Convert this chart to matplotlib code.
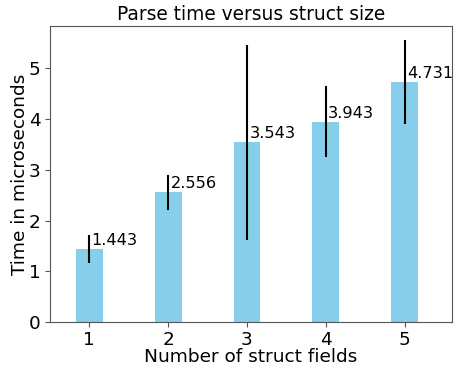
import matplotlib
matplotlib.use("Agg")
import matplotlib.pyplot as plt

fields = [1, 2, 3, 4, 5]
times = [1.443, 2.556, 3.543, 3.943, 4.731]
errors = [0.27, 0.34, 1.92, 0.70, 0.83]
labels = ["1.443", "2.556", "3.543", "3.943", "4.731"]

fig = plt.figure(figsize=(4.54, 3.70), dpi=100)
ax = fig.add_axes([49.5/454, 1-322.3/370, (452-49.5)/454, (322.3-26)/370])

ax.bar(fields, times, width=0.34, color="skyblue", zorder=1)
ax.errorbar(fields, times, yerr=errors, fmt="none", ecolor="black", elinewidth=1.5, capsize=0, zorder=2)
for x, t, lab in zip(fields, times, labels):
    ax.text(x + 0.03, t + 0.02, lab, fontsize=11.6, va="bottom", ha="left")

ax.set_xlim(0.496, 5.6)
ax.set_ylim(0, 5.83)
ax.set_xticks(fields)
ax.set_yticks([0, 1, 2, 3, 4, 5])
ax.tick_params(labelsize=13.3, colors="#555555", labelcolor="black", pad=3)
for s in ax.spines.values():
    s.set_color("#555555")
ax.set_xlabel("Number of struct fields", fontsize=13.3, labelpad=-1)
ax.set_ylabel("Time in microseconds", fontsize=13.3, labelpad=0)
ax.set_title("Parse time versus struct size", fontsize=13.4, pad=4)

fig.savefig("out.png", dpi=100)
